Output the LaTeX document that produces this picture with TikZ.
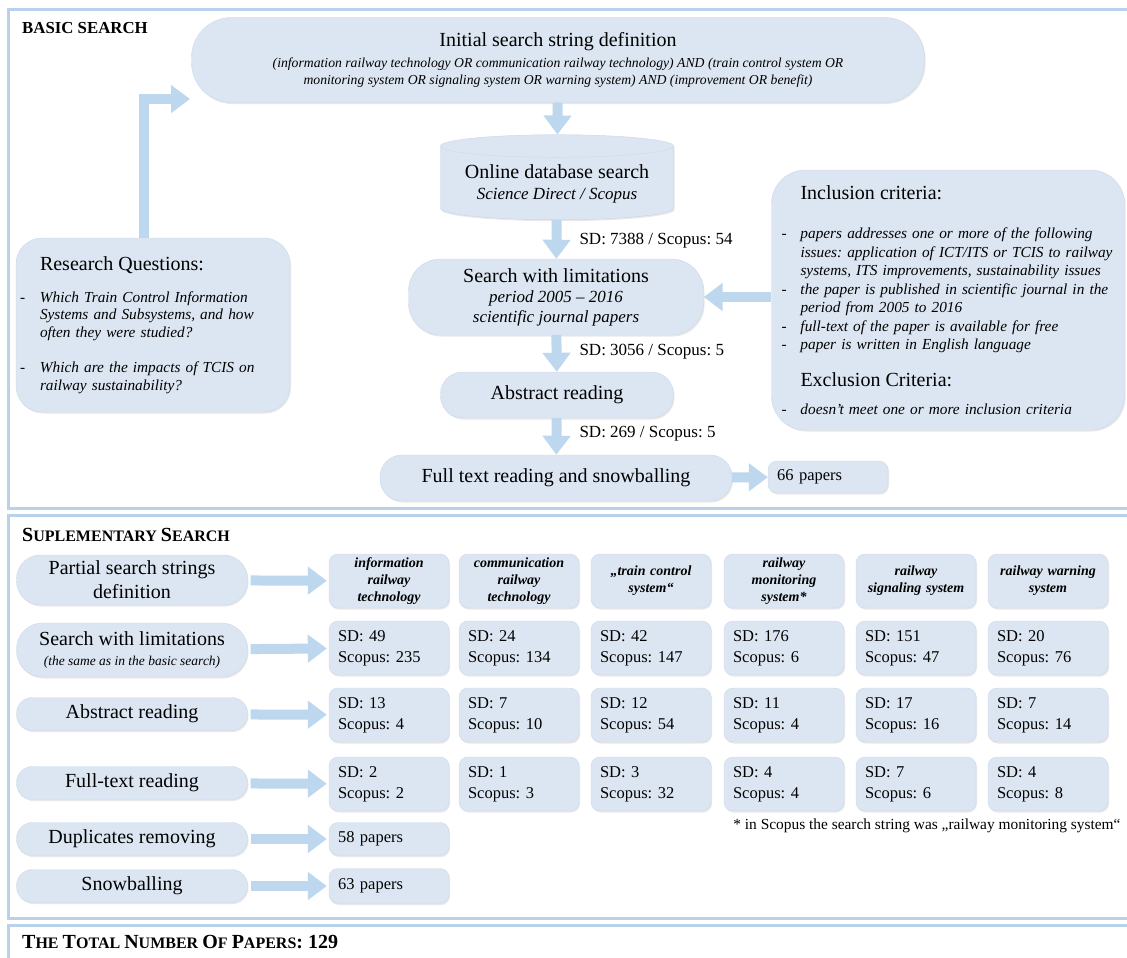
\documentclass[tikz,border=0pt]{standalone}
\usepackage{fontspec}
\setmainfont{Liberation Serif}
\usepackage{tikz}
\usetikzlibrary{arrows.meta,shapes,shadows,positioning}
\definecolor{boxfill}{RGB}{220,230,242}
\definecolor{boxline}{RGB}{204,218,234}
\definecolor{arrowblue}{RGB}{189,215,238}
\definecolor{frameblue}{RGB}{186,209,235}
\newcommand{\rqdash}{\makebox[20pt][l]{-}}
\newcommand{\rqind}{\hspace*{20pt}}
\newcommand{\incdash}{\hspace*{4pt}\makebox[19pt][l]{-}}
\newcommand{\incind}{\hspace*{23pt}}
\newcommand{\bigsc}[1]{{\fontsize{20}{24}\selectfont #1}}
\newcommand{\smsc}[1]{{\fontsize{16}{19}\selectfont #1}}
\tikzstyle{soft} = [drop shadow={shadow xshift=1pt, shadow yshift=-1.5pt, opacity=0.18, fill=black!50}]
\tikzstyle{stage} = [rectangle, rounded corners=22pt, fill=boxfill, draw=boxline, thin, soft, align=center, inner sep=2pt, font=\fontsize{20}{24}\selectfont]
\tikzstyle{infobox} = [stage, align=left, font=\fontsize{15.3}{18.5}\selectfont\itshape]
\tikzstyle{cell} = [rectangle, rounded corners=9pt, fill=boxfill, draw=boxline, thin, soft, minimum width=120pt, minimum height=54pt, text width=102pt, inner xsep=9pt, align=left, font=\fontsize{16.5}{21}\selectfont]
\tikzstyle{headcell} = [cell, align=center, font=\fontsize{14}{17}\selectfont\bfseries\itshape]
\tikzstyle{arrow} = [line width=10pt, arrowblue, -{Triangle[length=19pt,width=27pt]}]
\tikzstyle{tally} = [anchor=west, font=\fontsize{17}{20}\selectfont]
\tikzstyle{sectitle} = [anchor=west, inner sep=0pt, font=\fontsize{16.3}{19}\selectfont\bfseries]
\tikzstyle{secframe} = [line width=3pt, draw=frameblue]

\begin{document}
\frenchspacing
\begin{tikzpicture}[x=1pt,y=-1pt]
\useasboundingbox (0,0) rectangle (1127,958);
\fill[white] (0,0) rectangle (1127,958);
\clip (0,0) rectangle (1127,958);

% Section frames
\draw[secframe] (8,10) rectangle (1140,508);
\draw[secframe] (8,515) rectangle (1140,918);
\draw[secframe] (8,925) rectangle (1140,975);

% Basic search
\node[sectitle, font=\fontsize{16.8}{19}\selectfont\bfseries] (basic) at (22,28) {BASIC SEARCH};
\node[stage, minimum width=733pt, minimum height=85pt, rounded corners=40pt] (init) at (558,60) {Initial search string definition\\[-3pt]
{\itshape\fontsize{13.7}{17}\selectfont (information railway technology OR communication railway technology) AND (train control system OR}\\[-7pt]
{\itshape\fontsize{13.7}{17}\selectfont monitoring system OR signaling system OR warning system) AND (improvement OR benefit)}};
\node[stage, shape=cylinder, shape border rotate=90, aspect=0.12, rounded corners=0pt, minimum width=233pt, minimum height=85pt,
      cylinder uses custom fill, cylinder body fill=boxfill, cylinder end fill=boxfill!80!white] (db) at (557,184) {Online database search\\[-3pt]
{\itshape\fontsize{17}{20}\selectfont Science Direct / Scopus}};
\node[stage, minimum width=295pt, minimum height=76pt, rounded corners=32pt] (limits) at (556,297) {Search with limitations\\[-4pt]
{\itshape\fontsize{17}{21}\selectfont period 2005 -- 2016}\\[-4pt]
{\itshape\fontsize{17}{21}\selectfont scientific journal papers}};
\node[stage, minimum width=233pt, minimum height=46pt] (abstr) at (557,395) {Abstract reading};
\node[stage, minimum width=352pt, minimum height=46pt] (full) at (556,478) {Full text reading and snowballing};
\node[cell, minimum height=32pt] (p66) at (828,477) {66 papers};

% Counts along the flow
\node[tally] (c1) at (576,241) {SD: 7388 / Scopus: 54};
\node[tally] (c2) at (576,352) {SD: 3056 / Scopus: 5};
\node[tally] (c3) at (576,434) {SD: 269 / Scopus: 5};

% Research questions and criteria
\node[infobox, minimum width=274pt, minimum height=174pt, text width=266pt, rounded corners=26pt,
      font=\fontsize{15.3}{17.5}\selectfont\itshape] (rq) at (153,325) {
\rqind{\upshape\fontsize{20}{24}\selectfont Research Questions:}\\[14pt]
\rqdash Which Train Control Information\\
\rqind Systems and Subsystems, and how\\
\rqind often they were studied?\\[18pt]
\rqdash Which are the impacts of TCIS on\\
\rqind railway sustainability?};
\node[infobox, minimum width=353pt, minimum height=260pt, text width=341pt, inner xsep=6pt, rounded corners=34pt] (incl) at (948,300) {
\incind{\upshape\fontsize{20}{24}\selectfont Inclusion criteria:}\\[21pt]
\incdash papers addresses one or more of the following\\
\incind issues: application of ICT/ITS or TCIS to railway\\
\incind systems, ITS improvements, sustainability issues\\
\incdash the paper is published in scientific journal in the\\
\incind period from 2005 to 2016\\
\incdash full-text of the paper is available for free\\
\incdash paper is written in English language\\[18pt]
\incind{\upshape\fontsize{20}{24}\selectfont Exclusion Criteria:}\\[10pt]
\incdash doesn't meet one or more inclusion criteria};
\coordinate (rqin) at (190,99);

% Connections
\draw[arrow] (init) -- (db);
\draw[arrow] (db) -- (limits);
\draw[arrow] (limits) -- (abstr);
\draw[arrow] (abstr) -- (full);
\draw[arrow] (full) -- (p66);
\draw[arrow] (incl.west |- limits.east) -- (limits.east);
\draw[arrow] ([xshift=-9pt]rq.north) |- (rqin);

% Suplementary search
\node[sectitle] (supl) at (22,535) {\bigsc{S}\smsc{UPLEMENTARY} \bigsc{S}\smsc{EARCH}};
\node[stage, minimum width=231pt, minimum height=50pt, rounded corners=24pt] (partial) at (132,580) {Partial search strings\\definition};
\node[stage, minimum width=231pt, minimum height=54pt, rounded corners=26pt] (slimits) at (132,650) {Search with limitations\\[-4pt]
{\itshape\fontsize{13.5}{16}\selectfont (the same as in the basic search)}};
\node[stage, minimum width=231pt, minimum height=33pt, rounded corners=16pt] (sabstr) at (132,714) {Abstract reading};
\node[stage, minimum width=231pt, minimum height=33pt, rounded corners=16pt] (sfull) at (132,783) {Full-text reading};
\node[stage, minimum width=231pt, minimum height=33pt, rounded corners=16pt] (dupl) at (132,839) {Duplicates removing};
\node[stage, minimum width=231pt, minimum height=33pt, rounded corners=16pt] (snowb) at (132,886) {Snowballing};

% Search strings
\node[headcell] (h1) at (389,581) {information\\railway\\technology};
\node[headcell] (h2) at (519,581) {communication\\railway\\technology};
\node[headcell] (h3) at (651,581) {„train control\\system“};
\node[headcell] (h4) at (784,581) {railway\\monitoring\\system*};
\node[headcell] (h5) at (916,581) {railway\\signaling system};
\node[headcell] (h6) at (1048,581) {railway warning\\system};

% Results per string
\node[cell] (s1) at (389,648) {SD: 49\\Scopus: 235};
\node[cell] (s2) at (519,648) {SD: 24\\Scopus: 134};
\node[cell] (s3) at (651,648) {SD: 42\\Scopus: 147};
\node[cell] (s4) at (784,648) {SD: 176\\Scopus: 6};
\node[cell] (s5) at (916,648) {SD: 151\\Scopus: 47};
\node[cell] (s6) at (1048,648) {SD: 20\\Scopus: 76};
\node[cell] (a1) at (389,715) {SD: 13\\Scopus: 4};
\node[cell] (a2) at (519,715) {SD: 7\\Scopus: 10};
\node[cell] (a3) at (651,715) {SD: 12\\Scopus: 54};
\node[cell] (a4) at (784,715) {SD: 11\\Scopus: 4};
\node[cell] (a5) at (916,715) {SD: 17\\Scopus: 16};
\node[cell] (a6) at (1048,715) {SD: 7\\Scopus: 14};
\node[cell] (f1) at (389,784) {SD: 2\\Scopus: 2};
\node[cell] (f2) at (519,784) {SD: 1\\Scopus: 3};
\node[cell] (f3) at (651,784) {SD: 3\\Scopus: 32};
\node[cell] (f4) at (784,784) {SD: 4\\Scopus: 4};
\node[cell] (f5) at (916,784) {SD: 7\\Scopus: 6};
\node[cell] (f6) at (1048,784) {SD: 4\\Scopus: 8};
\node[cell, minimum height=33pt] (p58) at (389,839) {58 papers};
\node[cell, minimum height=35pt] (p63) at (389,886) {63 papers};
\node[anchor=east, font=\fontsize{15.4}{18}\selectfont] (note) at (1124,826) {* in Scopus the search string was „railway monitoring system“};

% Connections
\draw[arrow, shorten <=3pt, shorten >=2pt] (partial) -- (h1);
\draw[arrow, shorten <=3pt, shorten >=2pt] (slimits) -- (s1);
\draw[arrow, shorten <=3pt, shorten >=2pt] (sabstr) -- (a1);
\draw[arrow, shorten <=3pt, shorten >=2pt] (sfull) -- (f1);
\draw[arrow, shorten <=3pt, shorten >=2pt] (dupl) -- (p58);
\draw[arrow, shorten <=3pt, shorten >=2pt] (snowb) -- (p63);

% Total
\node[sectitle] (total) at (22,942) {\bigsc{T}\smsc{HE} \bigsc{T}\smsc{OTAL} \bigsc{N}\smsc{UMBER} \bigsc{O}\smsc{F} \bigsc{P}\smsc{APERS}\bigsc{: 129}};
\end{tikzpicture}
\end{document}
